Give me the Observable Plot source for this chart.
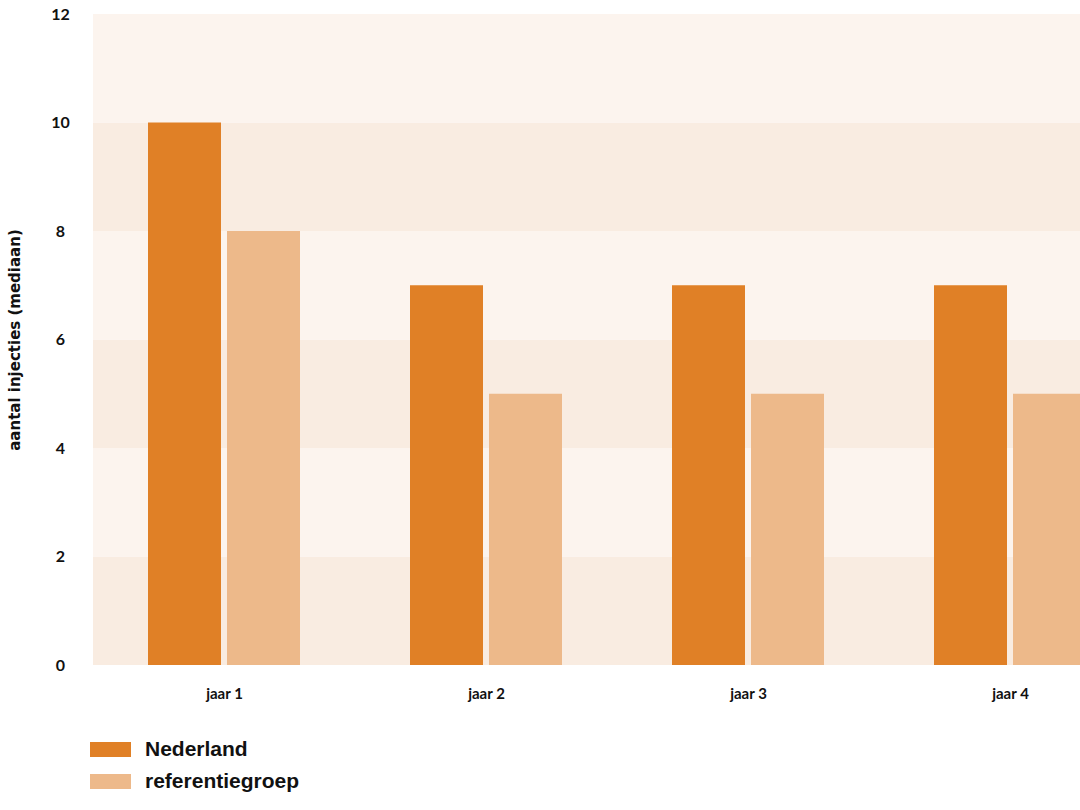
<!DOCTYPE html>
<html>
<head>
<meta charset="utf-8">
<script src="https://cdn.jsdelivr.net/npm/d3@7"></script>
<script src="https://cdn.jsdelivr.net/npm/@observablehq/plot@0.6"></script>
<style>
  html, body { margin: 0; padding: 0; background: #ffffff; overflow: hidden; width: 1080px; height: 810px; }
  #legend { position: relative; margin-left: 90px; padding-top: 8px; font-family: "Liberation Sans", Arial, sans-serif; font-weight: 700; font-size: 21px; color: #111; }
  .item { display: flex; align-items: center; height: 32px; }
  .sw { width: 41px; height: 15px; margin-right: 14px; }
</style>
</head>
<body>
<div id="chart"></div>
<div id="legend"></div>
<script>
const years = ["jaar 1", "jaar 2", "jaar 3", "jaar 4"];
const nederland = [10, 7, 7, 7];
const referentiegroep = [8, 5, 5, 5];
const yTicks = [0, 2, 4, 6, 8, 10, 12];
const seriesNames = ["Nederland", "referentiegroep"];

const colorNL = "#e08026";
const colorRef = "#edb98a";
const bandDark = "#f9ece1";
const bandLight = "#fcf4ee";

const nlData = years.map((y, i) => ({year: y, value: nederland[i]}));
const refData = years.map((y, i) => ({year: y, value: referentiegroep[i]}));
const bands = yTicks.slice(0, -1).map((t, i) => ({y1: t, y2: yTicks[i + 1], idx: i}));

const chart = Plot.plot({
  width: 1080,
  height: 725,
  marginLeft: 93,
  marginRight: -61,
  marginTop: 14,
  marginBottom: 60,
  style: {fontFamily: "Lato, 'Open Sans', sans-serif", fontSize: "15px", fontWeight: 700, color: "#111", background: "transparent", overflow: "visible"},
  x: {domain: years, paddingInner: 0.42, paddingOuter: 0.21, axis: null},
  y: {domain: [0, 12], axis: null},
  marks: [
    Plot.rectY(bands, {y1: "y1", y2: "y2", fill: d => (d.idx % 2 === 0 ? bandDark : bandLight)}),
    Plot.barY(nlData, {x: "year", y: "value", fill: colorNL, insetRight: 79}),
    Plot.barY(refData, {x: "year", y: "value", fill: colorRef, insetLeft: 79}),
    Plot.axisX(years, {tickSize: 0, tickPadding: 23, fontSize: 15, fontWeight: 700, label: null}),
    Plot.axisY(yTicks, {tickSize: 0, tickPadding: 33, textAnchor: "middle", fontSize: 16, fontWeight: 700,
      tickFormat: d => String(d), label: null}),
    Plot.text(["aantal injecties (mediaan)"], {
      frameAnchor: "left", textAnchor: "middle", text: d => d, rotate: -90, dx: -78, fontSize: 15, fontWeight: 700,
      fontFamily: "'DejaVu Sans', sans-serif", fill: "#111"
    })
  ]
});
document.getElementById("chart").appendChild(chart);

const legend = document.getElementById("legend");
const legendColors = [colorNL, colorRef];
seriesNames.forEach((name, i) => {
  const item = document.createElement("div");
  item.className = "item";
  const sw = document.createElement("div");
  sw.className = "sw";
  sw.style.background = legendColors[i];
  const label = document.createElement("span");
  label.textContent = name;
  item.appendChild(sw);
  item.appendChild(label);
  legend.appendChild(item);
});
</script>
</body>
</html>
